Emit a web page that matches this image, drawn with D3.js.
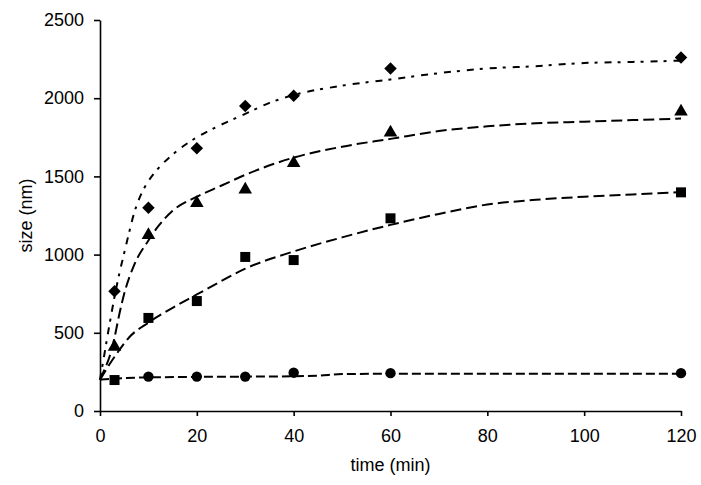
<!DOCTYPE html>
<html>
<head>
<meta charset="utf-8">
<script src="https://cdn.jsdelivr.net/npm/d3@7"></script>
<style>
  body { margin: 0; background: #fff; }
  svg text { font-family: "Liberation Sans", Arial, sans-serif; fill: #000; }
  .axis path, .axis line { stroke: #000; stroke-width: 1.6; }
</style>
</head>
<body>
<div id="chart"></div>
<script>
// measured points
const timesA = [3, 10, 20, 30, 40, 60, 120];
const diamondVals = [765, 1300, 1680, 1950, 2015, 2190, 2260];
const triangleVals = [410, 1125, 1330, 1415, 1585, 1780, 1915];
const squareVals = [198, 595, 703, 985, 965, 1232, 1398];
const timesC = [10, 20, 30, 40, 60, 120];
const circleVals = [220, 220, 220, 245, 242, 242];

// fitted curves
const diamondFit = [[0, 200], [1, 380], [2, 560], [3, 730], [4, 880], [5, 1010], [6, 1140], [7, 1260], [8, 1350], [10, 1470], [12, 1550], [15, 1640], [20, 1750], [25, 1830], [30, 1900], [35, 1970], [40, 2020], [50, 2080], [60, 2120], [70, 2160], [80, 2190], [90, 2205], [100, 2225], [110, 2232], [120, 2240]];
const triangleFit = [[0, 200], [1, 270], [2, 350], [3, 470], [4, 620], [5, 750], [7, 930], [10, 1090], [12, 1180], [15, 1280], [20, 1370], [25, 1440], [30, 1510], [40, 1620], [50, 1690], [60, 1740], [70, 1790], [80, 1820], [90, 1840], [100, 1850], [110, 1860], [120, 1870]];
const squareFit = [[0, 200], [2, 300], [4, 390], [6, 470], [10, 565], [15, 660], [20, 745], [25, 830], [30, 910], [40, 1020], [50, 1110], [60, 1190], [70, 1260], [80, 1320], [90, 1350], [100, 1370], [110, 1385], [120, 1400]];
const circleFit = [[0, 200], [5, 210], [10, 215], [20, 218], [30, 220], [40, 222], [45, 226], [50, 236], [60, 238], [120, 238]];

const xTicks = [0, 20, 40, 60, 80, 100, 120];
const yTicks = [0, 500, 1000, 1500, 2000, 2500];

const W = 701, H = 485;
const margin = { top: 20, right: 20, bottom: 74, left: 100 };
const width = 581, height = 391;

const svg = d3.select('#chart').append('svg')
  .attr('width', W)
  .attr('height', H);
const g = svg.append('g')
  .attr('transform', 'translate(' + margin.left + ',' + margin.top + ')');

const x = d3.scaleLinear().domain([0, 120]).range([0, width]);
const y = d3.scaleLinear().domain([0, 2500]).range([height, 0]);

g.append('g')
  .attr('class', 'axis')
  .call(d3.axisLeft(y).tickValues(yTicks).tickFormat(d3.format('d'))
    .tickSize(6).tickSizeOuter(0).tickPadding(10))
  .selectAll('text').style('font-size', '18px');

g.append('g')
  .attr('class', 'axis')
  .attr('transform', 'translate(0,' + height + ')')
  .call(d3.axisBottom(x).tickValues(xTicks).tickSize(5).tickSizeOuter(0).tickPadding(13))
  .selectAll('text').style('font-size', '18px');

g.append('text')
  .attr('x', x(60))
  .attr('y', height + 60)
  .attr('text-anchor', 'middle')
  .style('font-size', '18px')
  .text('time (min)');

g.append('text')
  .attr('transform', 'translate(' + (-68) + ',' + y(1250) + ') rotate(-90)')
  .attr('text-anchor', 'middle')
  .style('font-size', '18px')
  .text('size (nm)');

const line = d3.line()
  .x(d => x(d[0]))
  .y(d => y(d[1]))
  .curve(d3.curveMonotoneX);

const drawFit = (data, dash) => {
  g.append('path')
    .datum(data)
    .attr('d', line)
    .attr('fill', 'none')
    .attr('stroke', '#000')
    .attr('stroke-width', 2)
    .attr('stroke-dasharray', dash);
};

drawFit(circleFit, '9,4');
drawFit(squareFit, '11,5');
drawFit(triangleFit, '11,5');
drawFit(diamondFit, '7,6,3,7');

const drawMarks = (times, vals, type, size, rot) => {
  const sym = d3.symbol().type(type).size(size);
  g.selectAll(null)
    .data(vals)
    .enter().append('path')
    .attr('d', sym)
    .attr('transform', (d, i) => 'translate(' + x(times[i]) + ',' + y(d) + ') rotate(' + (rot || 0) + ')')
    .attr('fill', '#000');
};

drawMarks(timesC, circleVals, d3.symbolCircle, 85);
drawMarks(timesA, squareVals, d3.symbolSquare, 100);
drawMarks(timesA, triangleVals, d3.symbolTriangle, 80);
drawMarks(timesA, diamondVals, d3.symbolSquare, 78, 45);
</script>
</body>
</html>
